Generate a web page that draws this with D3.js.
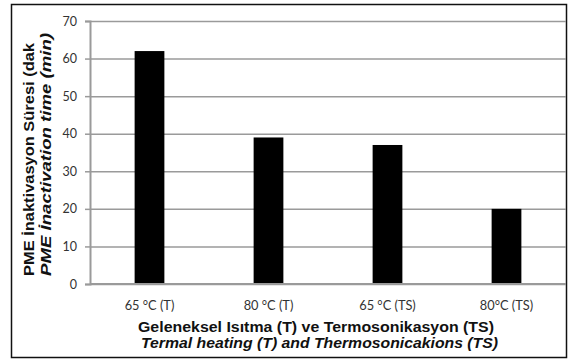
<!DOCTYPE html>
<html><head><meta charset="utf-8">
<script src="https://cdn.jsdelivr.net/npm/d3@7"></script>
<style>body{margin:0;background:#fff}svg{display:block}</style>
</head><body>
<script>
const categories = ["65 °C (T)", "80 °C (T)", "65 °C (TS)", "80°C (TS)"];
const values = [62, 39, 37, 20];
const yTicks = [0, 10, 20, 30, 40, 50, 60, 70];
const yTitle1 = "PME İnaktivasyon Süresi (dak";
const yTitle2 = "PME İnactivation time (min)";
const xTitle1 = "Geleneksel Isıtma (T) ve Termosonikasyon (TS)";
const xTitle2 = "Termal heating (T) and Thermosonicakions (TS)";

(function () {
const W = 570, H = 362;
const svg = d3.select("body").append("svg").attr("width", W).attr("height", H);
svg.append("rect").attr("x", 11.5).attr("y", 4.5).attr("width", 555).attr("height", 353)
  .attr("fill", "#fff").attr("stroke", "#111").attr("stroke-width", 1.5);

const pl = 90, pr = 566, pt = 21, pb = 284;
const x = d3.scaleBand().domain(categories).range([pl, pr]).paddingInner(0.75).paddingOuter(0.375);
const y = d3.scaleLinear().domain([0, 70]).range([pb, pt]);

// gridlines
const gy = svg.append("g").attr("transform", `translate(${pl},0)`)
  .call(d3.axisLeft(y).tickValues(yTicks).tickSize(-(pr - pl)).tickFormat(""));
gy.select(".domain").remove();
gy.selectAll(".tick line").attr("stroke", "#9a9a9a").attr("stroke-width", 1.5);

// y axis
const ya = svg.append("g").attr("transform", `translate(${pl},0)`)
  .call(d3.axisLeft(y).tickValues(yTicks).tickSize(5).tickPadding(8));
ya.select(".domain").attr("stroke", "#9a9a9a").attr("stroke-width", 2);
ya.selectAll(".tick line").attr("stroke", "#9a9a9a").attr("stroke-width", 1.5);
ya.selectAll(".tick text").attr("font-family", "Lato, sans-serif").attr("font-size", 12.5).attr("fill", "#333");

// bars
svg.append("g").selectAll("rect").data(values).join("rect")
  .attr("x", (d, i) => x(categories[i])).attr("width", x.bandwidth())
  .attr("y", d => y(d)).attr("height", d => y(0) - y(d)).attr("fill", "#000");

// x axis
const xa = svg.append("g").attr("transform", `translate(0,${pb})`)
  .call(d3.axisBottom(x).tickSize(0).tickPadding(17));
xa.select(".domain").attr("stroke", "#9a9a9a").attr("stroke-width", 2).attr("d", `M${pl},0H${pr}`);
xa.selectAll(".tick text").attr("font-family", "Lato, sans-serif").attr("font-size", 12.8).attr("fill", "#333");

const tf = "Liberation Sans, Arial, sans-serif";
// titles
svg.append("text").attr("x", 138).attr("y", 332)
  .attr("font-family", tf).attr("font-weight", "bold").attr("font-size", 14.5)
  .attr("textLength", 356).attr("lengthAdjust", "spacingAndGlyphs")
  .attr("fill", "#111").text(xTitle1);
svg.append("text").attr("x", 141).attr("y", 348)
  .attr("font-family", tf).attr("font-weight", "bold").attr("font-style", "italic").attr("font-size", 14.5)
  .attr("textLength", 357).attr("lengthAdjust", "spacingAndGlyphs")
  .attr("fill", "#111").text(xTitle2);

svg.append("text").attr("transform", "translate(34,276) rotate(-90)")
  .attr("font-family", tf).attr("font-weight", "bold").attr("font-size", 14.5)
  .attr("textLength", 233).attr("lengthAdjust", "spacingAndGlyphs")
  .attr("fill", "#111").text(yTitle1);
svg.append("text").attr("transform", "translate(51,276) rotate(-90)")
  .attr("font-family", tf).attr("font-weight", "bold").attr("font-style", "italic").attr("font-size", 14.5)
  .attr("textLength", 243).attr("lengthAdjust", "spacingAndGlyphs")
  .attr("fill", "#111").text(yTitle2);
})();
</script>
</body></html>
